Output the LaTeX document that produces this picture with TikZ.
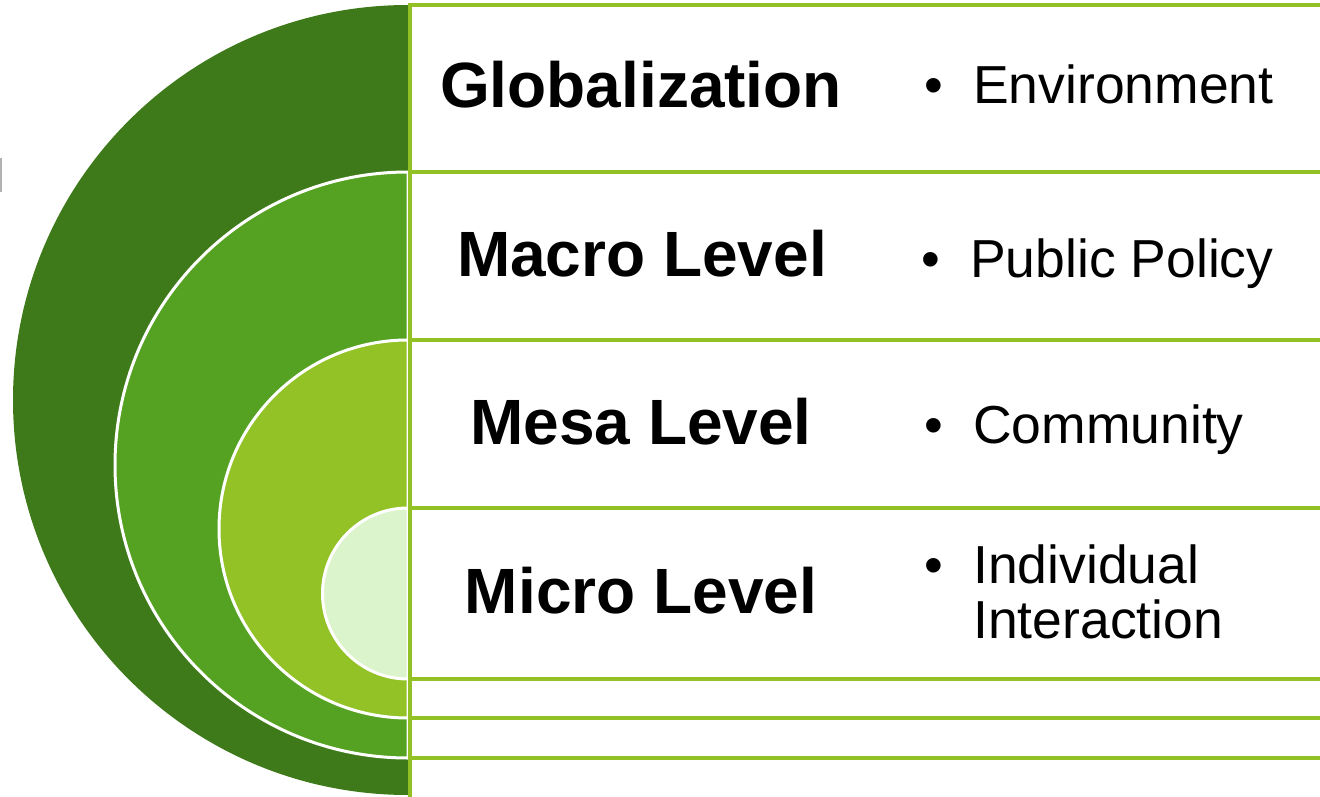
\documentclass[tikz,border=0pt]{standalone}
\usepackage{fontspec}
\setmainfont{Liberation Sans}
\definecolor{gdark}{RGB}{63,122,26}
\definecolor{gmid}{RGB}{85,162,34}
\definecolor{glime}{RGB}{146,194,38}
\definecolor{gpale}{RGB}{220,244,204}
\definecolor{gline}{RGB}{147,193,37}
\begin{document}
\begin{tikzpicture}[x=1pt,y=-1pt,
  ring/.style={draw=white, line width=3pt},
  panel/.style={draw=gline, line width=4pt},
  level/.style={font=\fontsize{64}{70}\selectfont\bfseries, anchor=base, inner sep=0pt},
  item/.style={font=\fontsize{53.5}{56}\selectfont, anchor=base west, inner sep=0pt}]
\useasboundingbox (0,0) rectangle (1320,797);
\clip (0,0) rectangle (1320,797);
% semicircles
\fill[gdark] (408,5) arc[start angle=270, end angle=90, radius=395] -- cycle;
\filldraw[fill=gmid, ring] (408,172) arc[start angle=270, end angle=90, radius=293] -- cycle;
\filldraw[fill=glime, ring] (408,340) arc[start angle=270, end angle=90, radius=189] -- cycle;
\filldraw[fill=gpale, ring] (408,508) arc[start angle=270, end angle=90, radius=85.5] -- cycle;
% panels
\draw[panel] (410,5) rectangle (1340,805);
\draw[panel] (410,172) rectangle (1340,758);
\draw[panel] (410,340) rectangle (1340,718);
\draw[panel] (410,508) rectangle (1340,679);
% small mark
\draw[gray!60, line width=2pt] (1,158) -- (1,192);
% level labels
\node[level] (glob) at (641,108) {Globalization};
\node[level] (macro) at (642,276) {Macro Level};
\node[level] (mesa) at (641,444) {Mesa Level};
\node[level] (micro) at (641,613) {Micro Level};
% items
\node[item] (b1) at (924,104) {•};
\node[item] (env) at (973,104) {Environment};
\node[item] (b2) at (921,277) {•};
\node[item] (pol) at (970,277) {Public Policy};
\node[item] (b3) at (924,443) {•};
\node[item] (com) at (973,443) {Community};
\node[item] (b4) at (924,583) {•};
\node[item] (ind1) at (973,583) {Individual};
\node[item] (ind2) at (973,638) {Interaction};
\end{tikzpicture}
\end{document}
